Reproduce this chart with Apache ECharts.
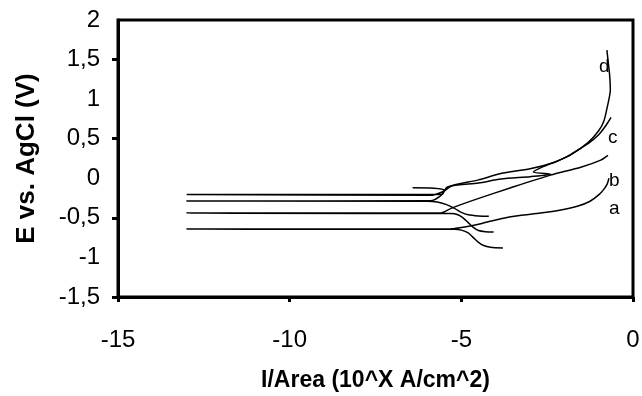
<!DOCTYPE html>
<html>
<head>
<meta charset="utf-8">
<script src="https://cdn.jsdelivr.net/npm/echarts@6/dist/echarts.min.js"></script>
<style>
html,body{margin:0;padding:0;background:#fff;}
#chart{width:642px;height:396px;}
</style>
</head>
<body>
<div id="chart"></div>
<script>
// x = log10(I/Area), y = E vs AgCl (V)
var curveA = [[-3.79,-0.88],[-4.15,-0.87],[-4.35,-0.85],[-4.5,-0.81],[-4.65,-0.75],[-4.8,-0.69],[-5.0,-0.655],[-5.2,-0.645],[-13,-0.642],[-5.3,-0.638],[-4.9,-0.615],[-4.4,-0.57],[-3.85,-0.51],[-3.3,-0.47],[-2.7,-0.44],[-2.1,-0.40],[-1.6,-0.35],[-1.25,-0.29],[-1.0,-0.21],[-0.85,-0.14],[-0.75,-0.07],[-0.70,0.0]];
var curveB = [[-4.06,-0.68],[-4.3,-0.675],[-4.5,-0.66],[-4.65,-0.62],[-4.8,-0.56],[-4.95,-0.50],[-5.1,-0.46],[-5.3,-0.445],[-13,-0.44],[-5.6,-0.438],[-5.3,-0.38],[-4.6,-0.27],[-3.56,-0.12],[-2.4,0.04],[-1.52,0.14],[-0.94,0.23],[-0.73,0.29]];
var curveC = [[-4.2,-0.48],[-4.5,-0.475],[-4.8,-0.46],[-5.0,-0.43],[-5.2,-0.38],[-5.45,-0.33],[-5.7,-0.30],[-6.0,-0.29],[-13,-0.288],[-5.9,-0.285],[-5.6,-0.22],[-5.4,-0.11],[-4.5,-0.02],[-3.85,0.06],[-3.0,0.12],[-2.3,0.20],[-1.9,0.28],[-1.6,0.36],[-1.3,0.44],[-1.0,0.55],[-0.8,0.66],[-0.64,0.77]];
var curveD = [[-6.42,-0.12],[-5.8,-0.125],[-5.5,-0.15],[-5.55,-0.20],[-5.8,-0.205],[-13,-0.205],[-5.9,-0.215],[-5.5,-0.16],[-5.3,-0.10],[-4.5,-0.06],[-3.85,-0.01],[-3.0,0.02],[-2.39,0.05],[-2.9,0.08],[-2.6,0.15],[-2.2,0.22],[-1.8,0.30],[-1.31,0.45],[-1.0,0.60],[-0.85,0.72],[-0.75,0.90],[-0.66,1.12],[-0.68,1.30],[-0.73,1.50],[-0.76,1.62]];
var curveNames = ['a','b','c','d'];
var xTicks = [-15,-10,-5,0];
var yTicks = [-1.5,-1,-0.5,0,0.5,1,1.5,2];
var yTickMarks = [-1.5,-0.5,0.5,1.5];

var chart = echarts.init(document.getElementById('chart'), null, {renderer:'canvas'});
var curves = [curveA, curveB, curveC, curveD];
var labelOffsets = [[0,30],[1,25],[-3,20],[-8,17]];
var fontFam = 'Liberation Sans, Arial, sans-serif';
var series = curves.map(function(c, i){
  return {
    type:'line',
    name: curveNames[i],
    data: c,
    showSymbol:false,
    symbol:'none',
    smooth:0.25,
    lineStyle:{color:'#000', width:1.5},
    endLabel:{show:true, formatter: curveNames[i], color:'#000', fontSize:19, fontFamily:fontFam, offset: labelOffsets[i], distance:0},
    animation:false
  };
});
chart.setOption({
  animation:false,
  backgroundColor:'#fff',
  grid:{left:118, right:9, top:20, bottom:99, outerBoundsMode:'none', containLabel:false, show:true, borderColor:'#000', borderWidth:3, backgroundColor:'transparent'},
  xAxis:{
    type:'value', min:-15, max:0, interval:5,
    name:'I/Area (10^X A/cm^2)', nameLocation:'middle', nameGap:72,
    nameTextStyle:{fontSize:23, fontWeight:'bold', color:'#000', fontFamily:fontFam},
    axisLine:{show:true, onZero:false, lineStyle:{color:'#000', width:3}},
    axisTick:{show:true, length:5, lineStyle:{color:'#000', width:3}},
    axisLabel:{fontSize:24, color:'#000', fontFamily:fontFam, margin:31,
      formatter:function(v){ return xTicks.indexOf(v)>=0 ? String(v) : ''; }},
    splitLine:{show:false}
  },
  yAxis:{
    type:'value', min:-1.5, max:2, interval:0.5,
    name:'E vs. AgCl (V)', nameLocation:'middle', nameGap:78,
    nameTextStyle:{fontSize:26, fontWeight:'bold', color:'#000', fontFamily:fontFam},
    axisLine:{show:true, onZero:false, lineStyle:{color:'#000', width:3}},
    axisTick:{show:true, length:6, customValues: yTickMarks, lineStyle:{color:'#000', width:3}},
    axisLabel:{fontSize:24, color:'#000', fontFamily:fontFam, margin:18,
      formatter:function(v){ return yTicks.indexOf(v)>=0 ? String(v).replace('.', ',') : ''; }},
    splitLine:{show:false}
  },
  series: series
});
</script>
</body>
</html>
